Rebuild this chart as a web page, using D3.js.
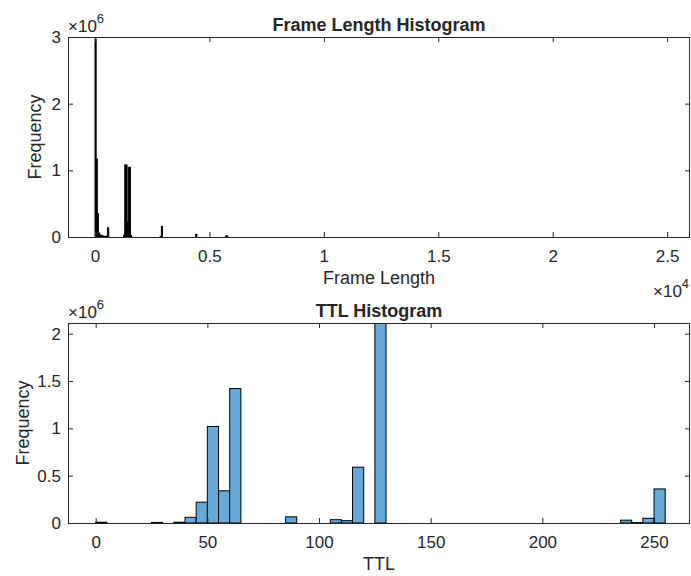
<!DOCTYPE html>
<html>
<head>
<meta charset="utf-8">
<script src="https://cdn.jsdelivr.net/npm/d3@7"></script>
<style>
  body { margin: 0; background: #fff; }
  text { font-family: "Liberation Sans", Arial, sans-serif; fill: #262626; }
</style>
</head>
<body>
<script>
// frame length histogram (bin start, count), bin width 50
var frameBinWidth = 50;
var frameBinStart = [0, 50, 100, 150, 200, 250, 300, 350, 400, 450, 500, 550,
                     1250, 1300, 1350, 1400, 1450, 1500, 1550, 2850, 2900, 4400, 5700, 5750];
var frameCounts   = [2.97e6, 1.17e6, 0.35e6, 0.06e6, 0.03e6, 0.02e6, 0.02e6, 0.01e6, 0.01e6, 0.01e6, 0.01e6, 0.14e6,
                     0.03e6, 1.08e6, 1.08e6, 0.23e6, 1.045e6, 1.045e6, 0.02e6, 0.01e6, 0.16e6, 0.04e6, 0.015e6, 0.015e6];
var frameXTicks = [0, 0.5, 1, 1.5, 2, 2.5];   // x 10^4
var frameYTicks = [0, 1, 2, 3];               // x 10^6

// TTL histogram, bin width 5
var ttlBinWidth = 5;
var ttlBinStart = [0, 25, 35, 40, 45, 50, 55, 60, 85, 105, 110, 115, 125, 235, 240, 245, 250];
var ttlCounts   = [0.008e6, 0.006e6, 0.008e6, 0.06e6, 0.22e6, 1.02e6, 0.34e6, 1.42e6, 0.065e6,
                   0.035e6, 0.025e6, 0.59e6, 2.6e6, 0.03e6, 0.005e6, 0.05e6, 0.36e6];
var ttlXTicks = [0, 50, 100, 150, 200, 250];
var ttlYTicks = [0, 0.5, 1, 1.5, 2];          // x 10^6

var W = 691, H = 576;
var left = 68, right = 690;

var svg = d3.select("body").append("svg")
    .attr("width", W)
    .attr("height", H);

function drawPanel(o) {
  var x = d3.scaleLinear().domain(o.xDomain).range([left, right]);
  var y = d3.scaleLinear().domain(o.yDomain).range([o.bottom, o.top]);
  var g = svg.append("g");

  g.append("clipPath").attr("id", o.id)
    .append("rect")
    .attr("x", left).attr("y", o.top)
    .attr("width", right - left).attr("height", o.bottom - o.top);

  var bars = o.starts.map(function(s, i) { return {x0: s, x1: s + o.binWidth, n: o.counts[i]}; });

  g.append("g").attr("clip-path", "url(#" + o.id + ")")
    .selectAll("rect")
    .data(bars)
    .enter()
    .append("rect")
      .attr("x", function(d) { return x(d.x0); })
      .attr("y", function(d) { return y(d.n); })
      .attr("width", function(d) { return x(d.x1) - x(d.x0); })
      .attr("height", function(d) { return y(0) - y(d.n); })
      .attr("fill", o.fill)
      .attr("stroke", "#000")
      .attr("stroke-width", o.strokeW);

  // axes with inward ticks on all four sides
  var tl = 5;
  g.append("g").attr("transform", "translate(0," + o.bottom + ")")
    .call(d3.axisBottom(x).tickValues(o.xTicks.map(function(t) { return t * o.xMul; }))
      .tickSize(-tl).tickPadding(13).tickFormat(function(d) { return d3.format("~g")(d / o.xMul); }));
  g.append("g").attr("transform", "translate(0," + o.top + ")")
    .call(d3.axisTop(x).tickValues(o.xTicks.map(function(t) { return t * o.xMul; }))
      .tickSize(-tl).tickFormat(""));
  g.append("g").attr("transform", "translate(" + left + ",0)")
    .call(d3.axisLeft(y).tickValues(o.yTicks.map(function(t) { return t * 1e6; }))
      .tickSize(-tl).tickPadding(7).tickFormat(function(d) { return d3.format("~g")(d / 1e6); }));
  g.append("g").attr("transform", "translate(" + right + ",0)")
    .call(d3.axisRight(y).tickValues(o.yTicks.map(function(t) { return t * 1e6; }))
      .tickSize(-tl).tickFormat(""));

  g.selectAll(".domain").remove();
  g.selectAll(".tick line").attr("stroke", "#262626");
  g.selectAll(".tick text").style("font-size", "17px").attr("fill", "#262626");

  g.append("rect")
    .attr("x", left + 0.5).attr("y", o.top + 0.5)
    .attr("width", right - left - 1).attr("height", o.bottom - o.top)
    .attr("fill", "none").attr("stroke", "#262626").attr("stroke-width", 1);

  g.append("text")
    .attr("x", (left + right) / 2).attr("y", o.top - 6.5)
    .attr("text-anchor", "middle")
    .style("font-size", "18px").style("font-weight", "bold")
    .attr("fill", "#000")
    .text(o.title);

  g.append("text")
    .attr("x", (left + right) / 2).attr("y", o.bottom + 47)
    .attr("text-anchor", "middle")
    .style("font-size", "18px")
    .text(o.xLabel);

  g.append("text")
    .attr("transform", "translate(" + o.yLabelX + "," + (o.top + o.bottom) / 2 + ") rotate(-90)")
    .attr("text-anchor", "middle")
    .style("font-size", "18px")
    .text("Frequency");

  var ey = g.append("text")
    .attr("x", left).attr("y", o.top - 5)
    .style("font-size", "17px").attr("fill", "#555");
  ey.append("tspan").text("\u00d710");
  ey.append("tspan").attr("dy", -9).style("font-size", "13px").text("6");

  if (o.xExp) {
    var ex = g.append("text")
      .attr("x", 653).attr("y", o.bottom + 60)
      .style("font-size", "17px").attr("fill", "#555");
    ex.append("tspan").text("\u00d710");
    ex.append("tspan").attr("dy", -9).style("font-size", "13px").text(o.xExp);
  }
}

drawPanel({
  id: "clipTop", top: 37, bottom: 237,
  xDomain: [-1180, 26000], yDomain: [0, 3e6],
  starts: frameBinStart, counts: frameCounts, binWidth: frameBinWidth,
  fill: "#000", strokeW: 1,
  xTicks: frameXTicks, xMul: 1e4, yTicks: frameYTicks,
  title: "Frame Length Histogram", xLabel: "Frame Length", yLabelX: 41, xExp: "4"
});

drawPanel({
  id: "clipBot", top: 323, bottom: 523,
  xDomain: [-12.4, 266.1], yDomain: [0, 2.113e6],
  starts: ttlBinStart, counts: ttlCounts, binWidth: ttlBinWidth,
  fill: "#64a9d8", strokeW: 1,
  xTicks: ttlXTicks, xMul: 1, yTicks: ttlYTicks,
  title: "TTL Histogram", xLabel: "TTL", yLabelX: 29, xExp: null
});
</script>
</body>
</html>
